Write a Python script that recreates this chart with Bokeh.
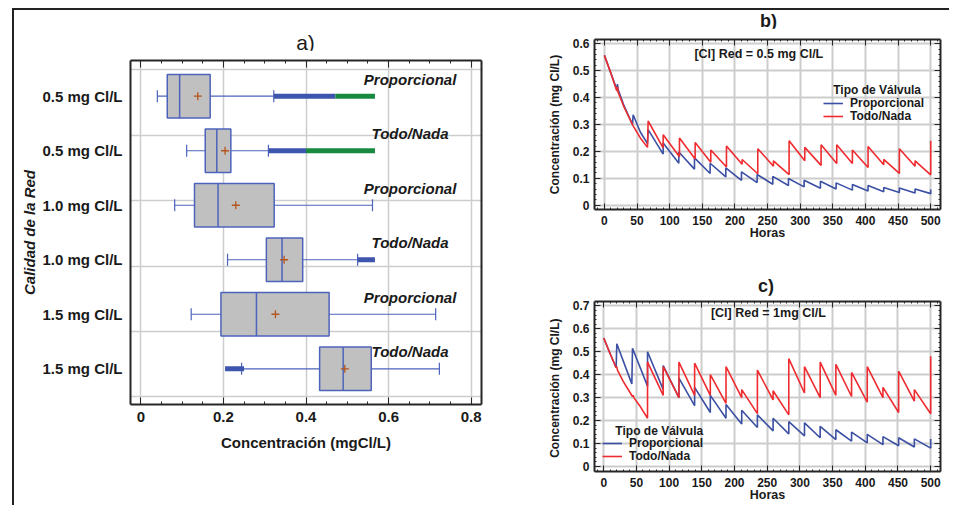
from bokeh.plotting import figure
from bokeh.models import (ColumnDataSource, LinearAxis, SingleIntervalTicker, FixedTicker,
                          Legend, LegendItem, Label, Range1d, Div)
from bokeh.layouts import row, column
from bokeh.transform import dodge
from bokeh.embed import file_html
from bokeh.resources import INLINE
from bokeh.core.properties import value

# ---------------- data: panel a (box plots) ----------------
row_labels = ["0.5 mg Cl/L", "0.5 mg Cl/L", "1.0 mg Cl/L", "1.0 mg Cl/L", "1.5 mg Cl/L", "1.5 mg Cl/L"]
valve_types = ["Proporcional", "Todo/Nada", "Proporcional", "Todo/Nada", "Proporcional", "Todo/Nada"]
whisker_lo = [0.040, 0.111, 0.082, 0.210, 0.122, 0.244]
q1 = [0.064, 0.156, 0.130, 0.304, 0.194, 0.433]
median = [0.094, 0.184, 0.187, 0.342, 0.280, 0.490]
mean = [0.138, 0.204, 0.230, 0.347, 0.326, 0.494]
q3 = [0.168, 0.218, 0.323, 0.392, 0.456, 0.558]
whisker_hi = [0.322, 0.309, 0.561, 0.525, 0.714, 0.723]
out_row = [0, 0, 1, 1, 3, 5]
out_lo = [0.322, 0.471, 0.309, 0.400, 0.525, 0.204]
out_hi = [0.471, 0.567, 0.400, 0.567, 0.567, 0.250]
out_kind = ["outside", "far", "outside", "far", "outside", "outside"]

# ---------------- data: panel b ----------------
b_prop_hours = [0, 10, 19, 20, 21, 30, 43, 44, 55, 66, 67, 90, 90, 114, 114, 138, 138, 162, 162, 186, 186,
                210, 210, 234, 234, 258, 258, 282, 282, 306, 306, 331, 331, 355, 355, 380, 380, 404, 404,
                428, 428, 452, 452, 476, 476, 500, 500]
b_prop_vals = [0.557, 0.49, 0.43, 0.45, 0.43, 0.37, 0.30, 0.336, 0.272, 0.229, 0.281, 0.19, 0.231, 0.156, 0.198,
               0.134, 0.176, 0.118, 0.156, 0.105, 0.139, 0.092, 0.124, 0.084, 0.114, 0.078, 0.107, 0.073, 0.099,
               0.068, 0.093, 0.063, 0.089, 0.060, 0.083, 0.056, 0.077, 0.053, 0.073, 0.050, 0.066, 0.047, 0.064,
               0.045, 0.060, 0.043, 0.058]
b_todo_hours = [0, 10, 19, 20, 21, 30, 44, 55, 66, 67, 90, 90, 115, 115, 139, 139, 163, 163, 187, 187, 211, 211,
                235, 235, 259, 259, 283, 283, 307, 307, 332, 332, 356, 356, 380, 380, 404, 404, 428, 428,
                452, 452, 476, 476, 500, 500]
b_todo_vals = [0.557, 0.49, 0.425, 0.44, 0.42, 0.365, 0.295, 0.25, 0.215, 0.313, 0.213, 0.262, 0.18, 0.25,
               0.172, 0.233, 0.16, 0.205, 0.142, 0.22, 0.152, 0.17, 0.117, 0.21, 0.145, 0.165, 0.114, 0.24,
               0.165, 0.215, 0.148, 0.225, 0.155, 0.225, 0.155, 0.205, 0.14, 0.218, 0.15, 0.17, 0.118, 0.21,
               0.145, 0.165, 0.113, 0.24]

# ---------------- data: panel c ----------------
c_prop_hours = [0, 10, 19, 20, 43, 44, 67, 67, 91, 91, 115, 115, 139, 139, 163, 163, 187, 187, 211, 211,
                235, 235, 259, 259, 283, 283, 307, 307, 331, 331, 355, 355, 379, 379, 403, 403, 427, 427,
                451, 451, 475, 475, 500, 500]
c_prop_vals = [0.56, 0.49, 0.43, 0.535, 0.36, 0.515, 0.35, 0.50, 0.335, 0.44, 0.30, 0.385, 0.265, 0.345,
               0.235, 0.31, 0.21, 0.27, 0.185, 0.245, 0.17, 0.225, 0.155, 0.21, 0.142, 0.195, 0.133, 0.19,
               0.125, 0.175, 0.117, 0.16, 0.11, 0.15, 0.103, 0.14, 0.095, 0.13, 0.09, 0.125, 0.085, 0.12,
               0.08, 0.12]
c_todo_hours = [0, 10, 19, 20, 21, 30, 44, 45, 46, 55, 67, 67, 91, 91, 115, 115, 139, 139, 163, 163, 187, 187,
                211, 211, 235, 235, 259, 259, 283, 283, 307, 307, 331, 331, 355, 355, 379, 379, 403, 403,
                427, 427, 451, 451, 475, 475, 500, 500]
c_todo_vals = [0.56, 0.49, 0.43, 0.435, 0.42, 0.37, 0.305, 0.31, 0.30, 0.265, 0.21, 0.455, 0.31, 0.435, 0.30,
               0.455, 0.31, 0.45, 0.31, 0.40, 0.275, 0.435, 0.30, 0.335, 0.23, 0.42, 0.29, 0.33, 0.225, 0.47,
               0.32, 0.435, 0.30, 0.455, 0.31, 0.445, 0.305, 0.41, 0.28, 0.435, 0.30, 0.345, 0.235, 0.415,
               0.285, 0.335, 0.23, 0.48]

FONT = "Liberation Sans"
DARK = "#262626"
GRID = "#cdcdcd"
BOXBLUE = "#4d63bb"
OUTBLUE = "#3d55ad"
GREEN = "#178a3f"
MEANC = "#b4551c"
LBLUE = "#3b4fa3"
LRED = "#ef2b2f"
TXT = "#1a1a1a"


def style_axis(ax, size, tick_in=7, minor_in=3, labels=True):
    ax.axis_line_color = DARK
    ax.axis_line_width = 2
    ax.major_tick_line_color = DARK
    ax.minor_tick_line_color = DARK
    ax.major_tick_in = tick_in
    ax.major_tick_out = 0
    ax.minor_tick_in = minor_in
    ax.minor_tick_out = 0
    ax.major_label_text_font = FONT
    ax.major_label_text_font_style = "bold"
    ax.major_label_text_color = TXT
    ax.axis_label_text_font = FONT
    ax.axis_label_text_font_style = "bold"
    ax.axis_label_text_color = TXT
    ax.major_label_text_font_size = size
    if not labels:
        ax.major_label_text_color = None
        ax.major_label_text_font_size = "1px"
        ax.major_label_standoff = 0


def add_text(f, x, y, text, size, style="bold", align="center"):
    f.add_layout(Label(x=x, y=y, text=text, text_font=FONT, text_font_style=style, text_font_size=size,
                       text_align=align, text_baseline="middle", text_color=TXT))


def title_div(text, width, height, shift, size_px, weight, center_y):
    lh = size_px + 4
    pad = max(center_y - lh / 2, 0)
    html = (f'<div style="display:block; box-sizing:border-box; width:{width - shift}px; '
            f'margin-left:{shift}px; padding-top:{pad}px; text-align:center; '
            f'font-family:\'{FONT}\'; font-size:{size_px}px; font-weight:{weight}; color:{TXT}; '
            f'line-height:{lh}px; white-space:nowrap;">{text}</div>')
    return Div(text=html, width=width, height=height, margin=0)


# ================= panel a =================
n = len(row_labels)
ypos = [n - i for i in range(n)]
src = ColumnDataSource(dict(y=ypos, q1=q1, q3=q3, med=median, mean=mean, wlo=whisker_lo,
                            whi=whisker_hi, valve=valve_types))
osrc = ColumnDataSource(dict(y=[ypos[r] for r in out_row], lo=out_lo, hi=out_hi,
                             color=[OUTBLUE if k == "outside" else GREEN for k in out_kind]))

fa = figure(width=526, height=450, x_range=Range1d(-0.025, 0.825), y_range=Range1d(0.345, 6.655),
            output_backend="svg", toolbar_location=None, title=None,
            min_border_left=116, min_border_right=59, min_border_top=10, min_border_bottom=96)
fa.outline_line_color = None
fa.background_fill_color = "white"

fa.xaxis.ticker = SingleIntervalTicker(interval=0.2, num_minor_ticks=4)
fa.xaxis.major_label_overrides = {0: "0"}
style_axis(fa.xaxis[0], "15px")
fa.xaxis.major_label_standoff = 7
fa.xaxis.axis_label = "Concentración (mgCl/L)"
fa.xaxis.axis_label_text_font_size = "15px"
fa.xaxis.axis_label_standoff = 9

fa.yaxis.ticker = FixedTicker(ticks=ypos)
fa.yaxis.major_label_overrides = {y: lab for y, lab in zip(ypos, row_labels)}
style_axis(fa.yaxis[0], "15px", tick_in=0, minor_in=0)
fa.yaxis.major_tick_line_color = None
fa.yaxis.major_label_standoff = 8
fa.yaxis.axis_label = "Calidad de la Red"
fa.yaxis.axis_label_text_font_size = "15px"
fa.yaxis.axis_label_text_font_style = "bold italic"
fa.yaxis.axis_label_standoff = 1

top_a = LinearAxis(ticker=SingleIntervalTicker(interval=0.2, num_minor_ticks=4))
style_axis(top_a, "15px", labels=False)
fa.add_layout(top_a, "above")
right_a = LinearAxis(ticker=FixedTicker(ticks=[]))
style_axis(right_a, "15px", labels=False)
fa.add_layout(right_a, "right")

fa.xgrid.grid_line_color = GRID
fa.xgrid.grid_line_width = 1.5
fa.ygrid.ticker = FixedTicker(ticks=[6.484 - 1.2 * k for k in range(6)])
fa.ygrid.grid_line_color = GRID
fa.ygrid.grid_line_width = 1.5

fa.segment(x0="wlo", x1="q1", y0="y", y1="y", line_color=BOXBLUE, line_width=1.2, source=src)
fa.segment(x0="q3", x1="whi", y0="y", y1="y", line_color=BOXBLUE, line_width=1.2, source=src)
fa.segment(x0="wlo", x1="wlo", y0=dodge("y", -0.11), y1=dodge("y", 0.11), line_color=BOXBLUE,
           line_width=1.2, source=src)
fa.segment(x0="whi", x1="whi", y0=dodge("y", -0.11), y1=dodge("y", 0.11), line_color=BOXBLUE,
           line_width=1.2, source=src)
fa.hbar(y="y", left="q1", right="q3", height=0.8, fill_color="#c0c0c0", line_color=BOXBLUE,
        line_width=1.5, source=src)
fa.segment(x0="med", x1="med", y0=dodge("y", -0.4), y1=dodge("y", 0.4), line_color=BOXBLUE,
           line_width=1.5, source=src)
fa.scatter(x="mean", y="y", marker="cross", size=8, line_color=MEANC, line_width=1.3, source=src)
fa.segment(x0="lo", x1="hi", y0="y", y1="y", line_color="color", line_width=5, line_cap="butt", source=osrc)
fa.text(x=0.652, y=dodge("y", 0.31), text="valve", source=src, text_font=value(FONT),
        text_font_style="bold italic", text_font_size="15px", text_align="center",
        text_baseline="middle", text_color=TXT)


# ================= panels b and c =================
def series_fig(w, h, xr, yr, mbl, mbr, mbt, mbb, ytitle):
    f = figure(width=w, height=h, x_range=Range1d(*xr), y_range=Range1d(*yr), output_backend="svg",
               toolbar_location=None, title=None, min_border_left=mbl, min_border_right=mbr,
               min_border_top=mbt, min_border_bottom=mbb)
    f.outline_line_color = None
    f.xaxis.ticker = SingleIntervalTicker(interval=50, num_minor_ticks=5)
    f.yaxis.ticker = SingleIntervalTicker(interval=0.1, num_minor_ticks=5)
    f.yaxis.major_label_overrides = {0: "0"}
    style_axis(f.xaxis[0], "12px", tick_in=6, minor_in=2)
    style_axis(f.yaxis[0], "12px", tick_in=6, minor_in=2)
    f.xaxis.major_label_standoff = 6
    f.yaxis.major_label_standoff = 5
    f.xaxis.axis_label = "Horas"
    f.xaxis.axis_label_text_font_size = "12.5px"
    f.xaxis.axis_label_standoff = -2
    f.yaxis.axis_label = ytitle
    f.yaxis.axis_label_text_font_size = "12px"
    f.yaxis.axis_label_standoff = 8
    top = LinearAxis(ticker=SingleIntervalTicker(interval=50, num_minor_ticks=5))
    style_axis(top, "12px", tick_in=6, minor_in=2, labels=False)
    f.add_layout(top, "above")
    right = LinearAxis(ticker=SingleIntervalTicker(interval=0.1, num_minor_ticks=5))
    style_axis(right, "12px", tick_in=6, minor_in=2, labels=False)
    f.add_layout(right, "right")
    f.xgrid.grid_line_color = GRID
    f.xgrid.grid_line_width = 2
    f.ygrid.grid_line_color = GRID
    f.ygrid.grid_line_width = 2
    return f


def add_legend(f, r_prop, r_todo, vx, vy_prop, vy_todo):
    for lab, rend, vy in (("Proporcional", r_prop, vy_prop), ("Todo/Nada", r_todo, vy_todo)):
        leg = Legend(items=[LegendItem(label=lab, renderers=[rend])],
                     location=(vx, vy), padding=0, margin=0, spacing=0, glyph_width=20, glyph_height=10,
                     label_height=10, label_standoff=7, label_text_font=FONT, label_text_font_style="bold",
                     label_text_font_size="12px", label_text_color=TXT,
                     background_fill_alpha=0, border_line_color=None)
        f.add_layout(leg)


fb = series_fig(409, 247, (-15.2, 515), (-0.016, 0.616), 54, 6, 11, 66, "Concentración (mg Cl/L)")
rb1 = fb.line(b_prop_hours, b_prop_vals, line_color=LBLUE, line_width=1.6)
rb2 = fb.line(b_todo_hours, b_todo_vals, line_color=LRED, line_width=1.6)
add_legend(fb, rb1, rb2, 229, 99, 86)
add_text(fb, 236.6, 0.563, "[Cl] Red = 0.5 mg Cl/L", "12.5px")
add_text(fb, 350.6, 0.43, "Tipo de Válvula", "12px", align="left")

fc = series_fig(409, 210, (-14.1, 515), (-0.022, 0.719), 52, 9, 6, 34, "Concentración  (mg Cl/L)")
rc1 = fc.line(c_prop_hours, c_prop_vals, line_color=LBLUE, line_width=1.6)
rc2 = fc.line(c_todo_hours, c_todo_vals, line_color=LRED, line_width=1.6)
add_legend(fc, rc1, rc2, 8, 21, 8)
add_text(fc, 251.8, 0.671, "[Cl] Red = 1mg Cl/L", "12.5px")
add_text(fc, 17.8, 0.153, "Tipo de Válvula", "12px", align="left")

div_a = title_div("a)", 526, 40, 57, 21, "normal", 32)
div_b = title_div("b)", 409, 18, 48, 18, "bold", 8)
div_c = title_div("c)", 409, 20, 43, 18, "bold", 10)

layout = row(column(div_a, fa), column(div_b, fb, div_c, fc),
             styles={"border-top": "2px solid #222", "border-left": "2px solid #222",
                     "margin-left": "12px", "margin-top": "8px"})

open("out.html", "w").write(file_html(layout, INLINE))
